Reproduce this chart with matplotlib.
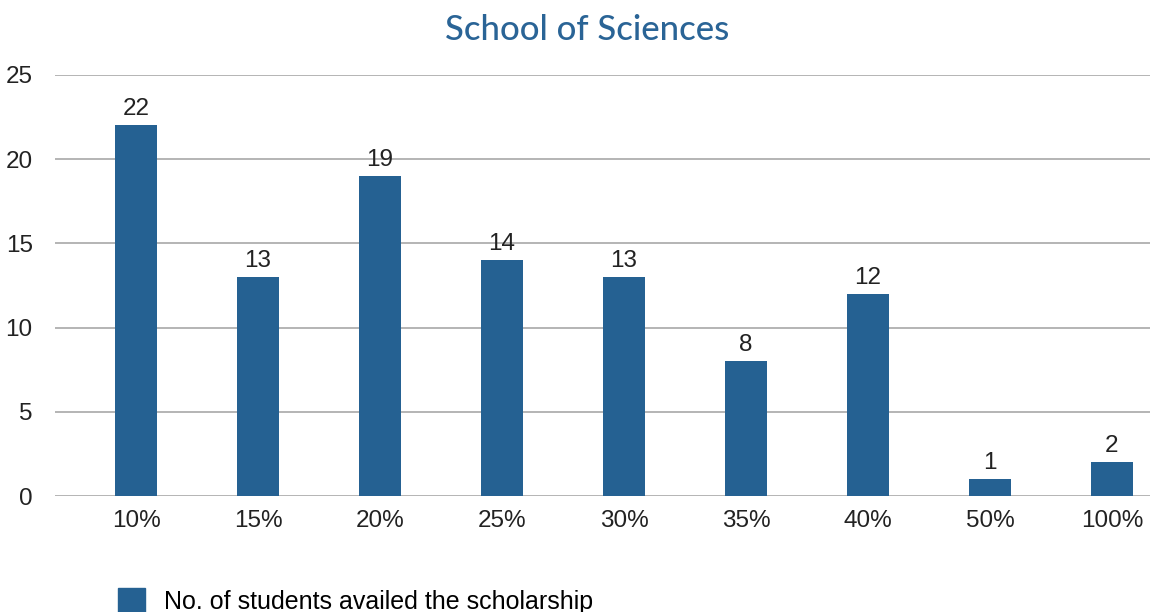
import matplotlib
matplotlib.use("Agg")
import matplotlib.pyplot as plt
from matplotlib.patches import Patch

categories = ["10%", "15%", "20%", "25%", "30%", "35%", "40%", "50%", "100%"]
students = [22, 13, 19, 14, 13, 8, 12, 1, 2]
yticks = [0, 5, 10, 15, 20, 25]

bar_color = "#256192"
title_color = "#2A6496"

plt.rcParams["font.family"] = ["Liberation Sans", "DejaVu Sans"]

fig = plt.figure(figsize=(11.52, 6.12), dpi=100)
ax = fig.add_axes([0.0477, 0.1895, 0.9503, 0.688])

x = range(len(categories))
bars = ax.bar(x, students, width=0.345, color=bar_color, zorder=3)
for b, v in zip(bars, students):
    ax.text(b.get_x() + b.get_width() / 2, v + 0.3, str(v),
            ha="center", va="bottom", fontsize=17.5, color="#222222")

ax.set_xlim(-0.665, 8.31)
ax.set_ylim(0, 25)
ax.set_yticks(yticks)
ax.set_xticks(list(x))
ax.set_xticklabels(categories)
ax.tick_params(axis="both", length=0, labelsize=17.5, colors="#222222")
ax.tick_params(axis="x", pad=10)
ax.tick_params(axis="y", pad=16)
ax.grid(axis="y", color="#A0A0A0", linewidth=1.1, zorder=0)
for s in ax.spines.values():
    s.set_visible(False)

fig.text(0.51, 0.951, "School of Sciences", ha="center", va="center",
         fontsize=25, color=title_color, fontweight="medium",
         family=["Lato", "DejaVu Sans"])

fig.legend(handles=[Patch(color=bar_color, label="No. of students availed the scholarship")],
           loc="lower left", bbox_to_anchor=(0.0825, -0.04), frameon=False,
           fontsize=18, handlelength=1.1, handleheight=1.1, handletextpad=0.75)

fig.savefig("out.png", dpi=100)
